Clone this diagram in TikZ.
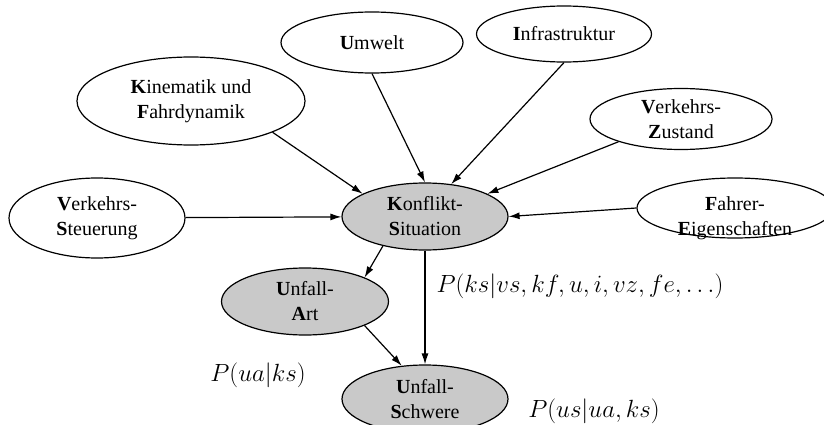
\documentclass[tikz,border=0pt]{standalone}
\usepackage{fontspec}
\setmainfont{Liberation Serif}
\usetikzlibrary{shapes.geometric}
\usetikzlibrary{arrows.meta}

\tikzset{
  zustand/.style={ellipse, draw, line width=1.2pt, inner xsep=0pt, inner ysep=-4pt,
    align=center, font=\fontsize{20}{25}\selectfont},
  konflikt/.style={zustand, fill=black!21},
  pfeil/.style={draw, line width=1.2pt, -{Latex[length=11pt,width=7pt]}},
  wahrsch/.style={inner sep=0pt, font=\fontsize{24}{28}\selectfont}
}

\begin{document}
\begin{tikzpicture}[x=1pt,y=1pt,yscale=-1]
\useasboundingbox (0,0) rectangle (824,425);
\clip (0,0) rectangle (824,425);

%Ellipses: Einflussgroessen
\node[zustand, minimum width=176pt, minimum height=80pt] (vs) at (97,218) {\textbf{V}erkehrs-\\\textbf{S}teuerung};
\node[zustand, minimum width=228pt, minimum height=88pt] (kin) at (191,101) {\textbf{K}inematik und\\\textbf{F}ahrdynamik};
\node[zustand, minimum width=182pt, minimum height=61pt] (u) at (372,42.5) {\textbf{U}mwelt};
\node[zustand, minimum width=175pt, minimum height=56pt] (i) at (564,34) {\textbf{I}nfrastruktur};
\node[zustand, minimum width=182pt, minimum height=61pt] (vz) at (681,119) {\textbf{V}erkehrs-\\\textbf{Z}ustand};
% text sits low in this one
\node[zustand, minimum width=196pt, minimum height=60pt, inner ysep=-16pt] (fe) at (735,208) {\rule{0pt}{34pt}\textbf{F}ahrer-\\\textbf{E}igenschaften};

%Ellipses: Konflikt und Unfall
\node[konflikt, minimum width=166pt, minimum height=67pt] (ks) at (425,216.5) {\textbf{K}onflikt-\\\textbf{S}ituation};
\node[konflikt, minimum width=167pt, minimum height=67pt] (ua) at (305,301.5) {\textbf{U}nfall-\\\textbf{A}rt};
\node[konflikt, minimum width=166pt, minimum height=68pt] (us) at (425,399) {\textbf{U}nfall-\\\textbf{S}chwere};

%Arrows
\draw[pfeil] (vs) -- (ks);
\draw[pfeil] (kin.-21.6) -- (ks.160);
\draw[pfeil] (u.south) -- (ks.north);
\draw[pfeil] (i.south) -- (ks.51.6);
\draw[pfeil] (vz.-160.5) -- (ks.20.8);
\draw[pfeil] (fe.west) -- (ks.east);
\draw[pfeil] (ks.-145) -- (ua.22);
\draw[pfeil] (ks.south) -- (us.north);
\draw[pfeil] (ua.-22) -- (us.125.5);

% Text Nodes
\node[wahrsch] (p-ks) at (580,286) {$P(ks|vs,kf,u,i,vz,fe,\ldots)$};
\node[wahrsch] (p-ua) at (258,375) {$P(ua|ks)$};
\node[wahrsch] (p-us) at (594,411) {$P(us|ua,ks)$};

\end{tikzpicture}
\end{document}
